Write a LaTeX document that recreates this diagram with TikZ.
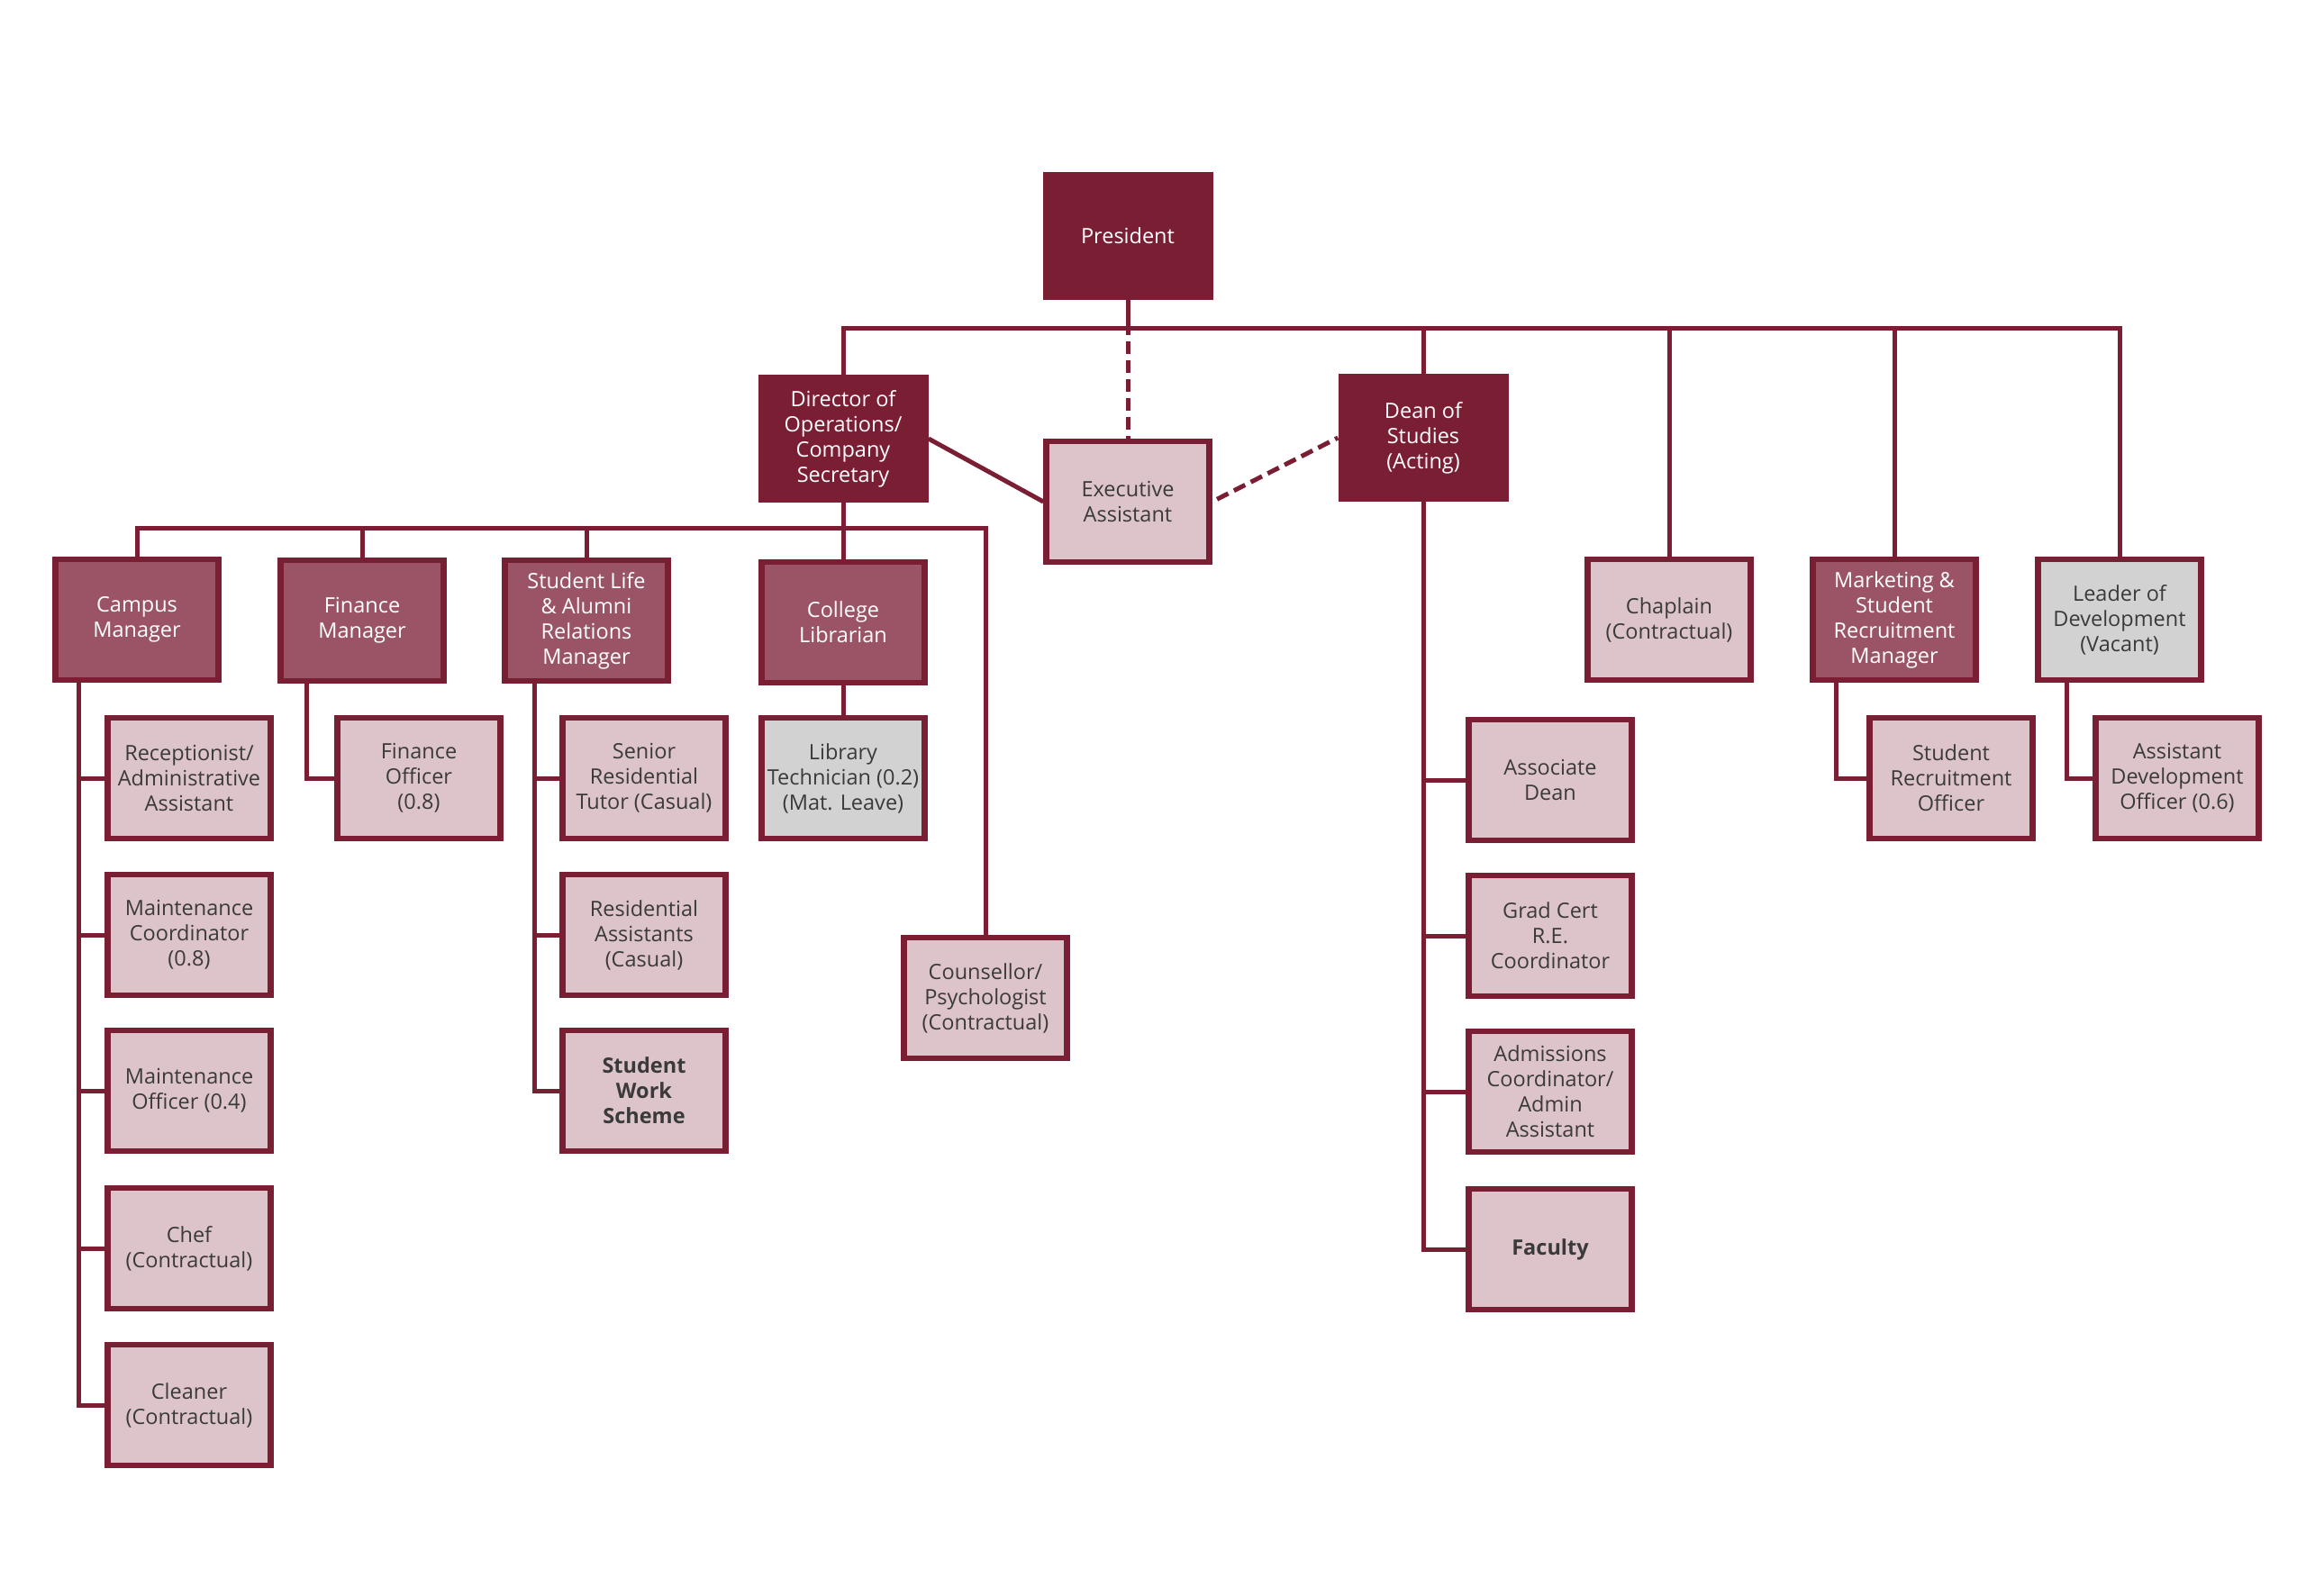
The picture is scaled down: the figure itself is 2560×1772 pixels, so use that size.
\documentclass[tikz,border=0pt]{standalone}
\usepackage{fontspec}
\setmainfont{Open Sans}
\definecolor{maroon}{HTML}{7A1E34}
\definecolor{midrose}{HTML}{9B5466}
\definecolor{lightrose}{HTML}{DDC4CA}
\definecolor{greyfill}{HTML}{D2D2D2}
\definecolor{txtgray}{HTML}{3A3A3A}
\begin{document}
\begin{tikzpicture}[x=1pt,y=-1pt,
  base/.style={rectangle, minimum width=181pt, minimum height=134pt, inner sep=0pt, align=center, font=\fontsize{23.5}{28}\selectfont},
  darkbox/.style={base, fill=maroon, text=white, minimum width=189pt, minimum height=142pt},
  midbox/.style={base, fill=midrose, draw=maroon, line width=6.5pt, text=white},
  lightbox/.style={base, fill=lightrose, draw=maroon, line width=6.5pt, text=txtgray},
  greybox/.style={base, fill=greyfill, draw=maroon, line width=6.5pt, text=txtgray},
  boldtext/.style={font=\fontsize{23.5}{28}\selectfont\bfseries},
  link/.style={draw=maroon, line width=5pt, line join=miter},
  dashlink/.style={draw=maroon, line width=5pt, dash pattern=on 14pt off 7pt}]
\useasboundingbox (0,0) rectangle (2560,1772);
\fill[white] (0,0) rectangle (2560,1772);

% top level
\node[darkbox] (pres) at (1252,262) {President};
\node[darkbox] (dir) at (936,487) {Director of\\Operations/\\Company\\Secretary};
\node[lightbox] (ea) at (1252,557) {Executive\\Assistant};
\node[darkbox] (dean) at (1580,486) {Dean of\\Studies\\(Acting)};
\node[lightbox] (chap) at (1853,688) {Chaplain\\(Contractual)};
\node[midbox] (mkt) at (2103,688) {Marketing \&\\Student\\Recruitment\\Manager};
\node[greybox] (lead) at (2353,688) {Leader of\\Development\\(Vacant)};

% second level
\node[midbox] (campus) at (152,688) {Campus\\Manager};
\node[midbox] (finmgr) at (402,689) {Finance\\Manager};
\node[midbox] (stud) at (651,689) {Student Life\\\& Alumni\\Relations\\Manager};
\node[midbox] (lib) at (936,691) {College\\Librarian};
\node[greybox] (libtech) at (936,864) {Library\\Technician (0.2)\\(Mat. Leave)};
\node[lightbox] (coun) at (1094,1108) {Counsellor/\\Psychologist\\(Contractual)};

% campus children
\node[lightbox] (rec) at (210,864) {Receptionist/\\Administrative\\Assistant};
\node[lightbox] (mcoord) at (210,1038) {Maintenance\\Coordinator\\(0.8)};
\node[lightbox] (moff) at (210,1211) {Maintenance\\Officer (0.4)};
\node[lightbox] (chef) at (210,1386) {Chef\\(Contractual)};
\node[lightbox] (clean) at (210,1560) {Cleaner\\(Contractual)};

% finance
\node[lightbox] (finoff) at (465,864) {Finance\\Officer\\(0.8)};

% student life children
\node[lightbox] (srt) at (715,864) {Senior\\Residential\\Tutor (Casual)};
\node[lightbox] (ra) at (715,1038) {Residential\\Assistants\\(Casual)};
\node[lightbox, boldtext] (sws) at (715,1211) {Student\\Work\\Scheme};

% dean children
\node[lightbox] (assoc) at (1721,866) {Associate\\Dean};
\node[lightbox] (grad) at (1721,1039) {Grad Cert\\R.E.\\Coordinator};
\node[lightbox] (adm) at (1721,1212) {Admissions\\Coordinator/\\Admin\\Assistant};
\node[lightbox, boldtext] (fac) at (1721,1387) {Faculty};

% marketing / leader children
\node[lightbox] (sro) at (2166,864) {Student\\Recruitment\\Officer};
\node[lightbox] (ado) at (2417,864) {Assistant\\Development\\Officer (0.6)};

% ---------- connectors ----------
\coordinate (bus1) at (1252,364);
\coordinate (bus2) at (936,586);

\draw[link] (pres.south) -- (bus1);
\draw[link] (dir.north) -- (dir.north |- bus1) -- (lead.north |- bus1) -- (lead.north);
\draw[link] (dean.north |- bus1) -- (dean.north);
\draw[link] (chap.north |- bus1) -- (chap.north);
\draw[link] (mkt.north |- bus1) -- (mkt.north);
\draw[dashlink] ([yshift=6pt]bus1) -- (ea.north);

\draw[link] (dir.east) -- (ea.west);
\draw[dashlink, shorten <=6pt] (ea.east) -- (dean.west);

\draw[link] (dir.south) -- (lib.north);
\draw[link] (campus.north) -- (campus.north |- bus2) -- (coun.north |- bus2) -- (coun.north);
\draw[link] (finmgr.north |- bus2) -- (finmgr.north);
\draw[link] (stud.north |- bus2) -- (stud.north);
\draw[link] (lib.south) -- (libtech.north);

% campus spine
\coordinate (cs) at (87,758);
\draw[link] (cs) |- (clean.west);
\draw[link] (cs |- rec.west) -- (rec.west);
\draw[link] (cs |- mcoord.west) -- (mcoord.west);
\draw[link] (cs |- moff.west) -- (moff.west);
\draw[link] (cs |- chef.west) -- (chef.west);

% finance spine
\coordinate (fs) at (340,759);
\draw[link] (fs) |- (finoff.west);

% student life spine
\coordinate (ss) at (593,759);
\draw[link] (ss) |- (sws.west);
\draw[link] (ss |- srt.west) -- (srt.west);
\draw[link] (ss |- ra.west) -- (ra.west);

% dean spine
\draw[link] (dean.south) |- (fac.west);
\draw[link] (dean.south |- assoc.west) -- (assoc.west);
\draw[link] (dean.south |- grad.west) -- (grad.west);
\draw[link] (dean.south |- adm.west) -- (adm.west);

% marketing spine
\coordinate (ms) at (2038,758);
\draw[link] (ms) |- (sro.west);

% leader spine
\coordinate (ls) at (2294,758);
\draw[link] (ls) |- (ado.west);
\end{tikzpicture}
\end{document}
